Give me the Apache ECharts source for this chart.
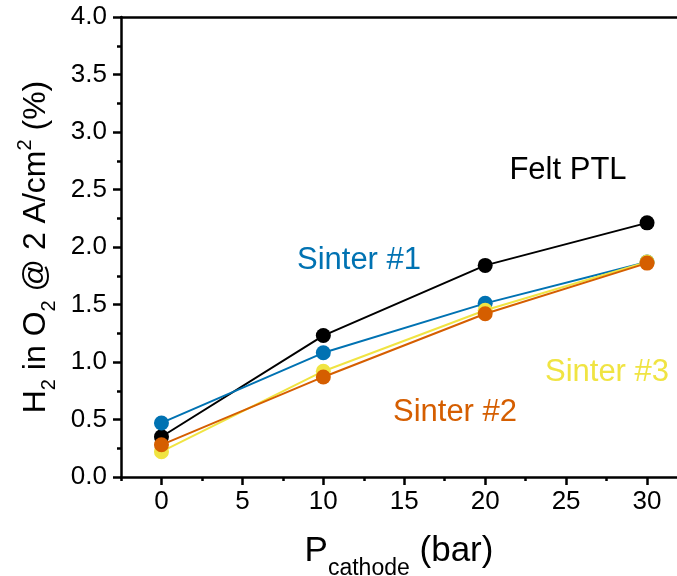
<!DOCTYPE html>
<html>
<head>
<meta charset="utf-8">
<script src="https://cdn.jsdelivr.net/npm/echarts@6/dist/echarts.min.js"></script>
<style>
  html, body { margin: 0; padding: 0; background: #fff; }
  #chart { width: 677px; height: 576px; }
</style>
</head>
<body>
<div id="chart"></div>
<script>
// ---- data ----
const pressures = [0, 10, 20, 30];
const feltPTL  = [0.35, 1.23, 1.84, 2.21];
const sinter1  = [0.47, 1.08, 1.51, 1.87];
const sinter3  = [0.22, 0.92, 1.45, 1.87];
const sinter2  = [0.28, 0.87, 1.42, 1.86];
const xMajorTicks = [0, 5, 10, 15, 20, 25, 30];
const xMinorTicks = [-2.5, 2.5, 7.5, 12.5, 17.5, 22.5, 27.5];
const seriesNames = ['Felt PTL', 'Sinter #1', 'Sinter #3', 'Sinter #2'];
const colors = ['#000000', '#0072B2', '#F0E442', '#D55E00'];

const FONT = '"Liberation Sans", Arial, Helvetica, sans-serif';
const chart = echarts.init(document.getElementById('chart'), null, { renderer: 'canvas' });

function pairs(ys) { return pressures.map((x, i) => [x, ys[i]]); }
const allSeries = [feltPTL, sinter1, sinter3, sinter2];
const XMIN = -2.5, XMAX = 31.85;

const option = {
  animation: false,
  backgroundColor: '#fff',
  grid: { left: 121, top: 17, bottom: 99, right: 0, show: false, containLabel: false, outerBoundsMode: 'none' },
  xAxis: [{
    type: 'value', min: XMIN, max: XMAX,
    axisLine: { show: true, onZero: false, lineStyle: { color: '#000', width: 2.5 } },
    axisTick: { show: true, inside: false, length: 8, lineStyle: { color: '#000', width: 2.5 }, customValues: xMajorTicks },
    axisLabel: { show: true, customValues: xMajorTicks, color: '#000', fontSize: 26, fontFamily: FONT, margin: 12 },
    splitLine: { show: false },
    name: '{a|P}{b|cathode}{a| (bar)}',
    nameLocation: 'middle', nameGap: 52,
    nameTextStyle: {
      color: '#000', fontFamily: FONT,
      rich: {
        a: { fontSize: 35, fontFamily: FONT, color: '#000', verticalAlign: 'bottom', lineHeight: 40 },
        b: { fontSize: 23, fontFamily: FONT, color: '#000', verticalAlign: 'bottom', lineHeight: 24, padding: [0, 0, -11, 0] }
      }
    }
  }, {
    type: 'value', min: XMIN, max: XMAX, position: 'bottom',
    axisLine: { show: false, onZero: false },
    axisTick: { show: true, inside: false, length: 4, lineStyle: { color: '#000', width: 2.5 }, customValues: xMinorTicks },
    axisLabel: { show: false },
    splitLine: { show: false }
  }, {
    type: 'value', min: XMIN, max: XMAX, position: 'top',
    axisLine: { show: true, onZero: false, lineStyle: { color: '#000', width: 2.5 } },
    axisTick: { show: false },
    axisLabel: { show: false },
    splitLine: { show: false }
  }],
  yAxis: {
    type: 'value', min: 0, max: 4, interval: 0.5,
    axisLine: { show: true, onZero: false, lineStyle: { color: '#000', width: 2.5 } },
    axisTick: { show: true, inside: false, length: 8, lineStyle: { color: '#000', width: 2.5 } },
    minorTick: { show: true, splitNumber: 2, length: 4, lineStyle: { color: '#000', width: 2.5 } },
    axisLabel: { color: '#000', fontSize: 26, fontFamily: FONT, margin: 14, formatter: v => v.toFixed(1) },
    splitLine: { show: false },
    name: '{a|H}{s|2}{a| in O}{s|2}{a| @ 2 A/cm}{p|2}{a| (%)}',
    nameLocation: 'middle', nameRotate: 90, nameGap: 68,
    nameTextStyle: {
      color: '#000', fontFamily: FONT,
      rich: {
        a: { fontSize: 32, fontFamily: FONT, color: '#000', verticalAlign: 'bottom', lineHeight: 36 },
        s: { fontSize: 20, fontFamily: FONT, color: '#000', verticalAlign: 'bottom', lineHeight: 20, padding: [0, 0, -8, 0] },
        p: { fontSize: 20, fontFamily: FONT, color: '#000', verticalAlign: 'top', lineHeight: 20 }
      }
    }
  },
  series: allSeries.map((ys, i) => ({
    name: seriesNames[i], type: 'line', data: pairs(ys),
    symbol: 'circle', symbolSize: 15, showSymbol: true,
    lineStyle: { color: colors[i], width: 2 },
    itemStyle: { color: colors[i] },
    z: 2 + i
  })),
  graphic: [
    { type: 'text', x: 568, y: 170, style: { text: 'Felt PTL', fill: colors[0], font: '31px ' + FONT, align: 'center', verticalAlign: 'middle' } },
    { type: 'text', x: 359, y: 260, style: { text: 'Sinter #1', fill: colors[1], font: '31px ' + FONT, align: 'center', verticalAlign: 'middle' } },
    { type: 'text', x: 607, y: 372, style: { text: 'Sinter #3', fill: colors[2], font: '31px ' + FONT, align: 'center', verticalAlign: 'middle' } },
    { type: 'text', x: 455, y: 412, style: { text: 'Sinter #2', fill: colors[3], font: '31px ' + FONT, align: 'center', verticalAlign: 'middle' } }
  ]
};
chart.setOption(option);
</script>
</body>
</html>
